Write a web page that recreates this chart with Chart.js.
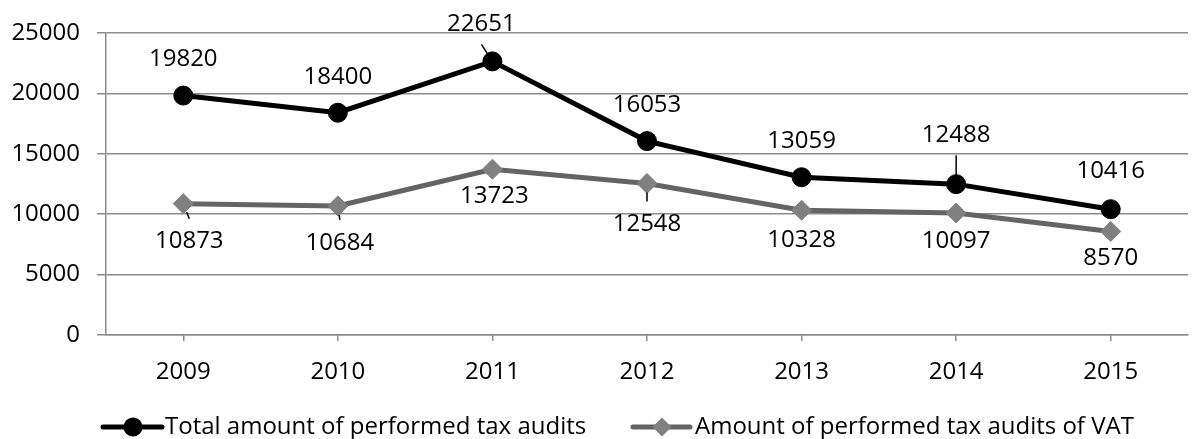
<!DOCTYPE html>
<html><head><meta charset="utf-8">
<script src="https://cdn.jsdelivr.net/npm/chart.js@4.4.0/dist/chart.umd.min.js"></script>
<style>
html,body{margin:0;padding:0;background:#fff;overflow:hidden;width:1197px;height:439px;}
#wrap{position:absolute;left:0;top:0;width:1199px;height:439px;}
</style></head><body>
<div id="wrap"><canvas id="c"></canvas></div>
<script>
const years = ['2009','2010','2011','2012','2013','2014','2015'];
const totalAudits = [19820,18400,22651,16053,13059,12488,10416];
const vatAudits = [10873,10684,13723,12548,10328,10097,8570];
const yTicks = [0,5000,10000,15000,20000,25000];
const seriesNames = ['Total amount of performed tax audits','Amount of performed tax audits of VAT'];

const FONT_FAMILY = '"Open Sans", "Noto Sans", sans-serif';
const FONT_SIZE = 24;
const FONT = FONT_SIZE + 'px ' + FONT_FAMILY;
const GRID = '#8c8c8c';
const C1 = '#000000';
const C2LINE = '#646464';
const C2PT = '#808080';

// label placement offsets (dx, dy) from point centre, and leader flags
const labelOffsets = [
  [[0,-36],[0,-36],[-11,-37],[0,-36],[0,-36],[0,-49],[0,-38]],
  [[6,38],[2,37],[2,27],[0,41],[0,29.5],[0,28],[0,26.5]]
];
const leaders = [
  [false,false,true,false,false,true,false],
  [true,true,false,true,false,false,false]
];

const labelPlugin = {
  id:'dataLabels',
  afterDatasetsDraw(chart){
    const ctx = chart.ctx;
    ctx.save();
    ctx.font = FONT;
    ctx.textAlign = 'center';
    ctx.textBaseline = 'middle';
    chart.data.datasets.forEach((ds,di)=>{
      const meta = chart.getDatasetMeta(di);
      meta.data.forEach((pt,i)=>{
        const [dx,dy] = labelOffsets[di][i];
        const lx = pt.x+dx, ly = pt.y+dy;
        if(leaders[di][i]){
          const sx = lx, sy = ly + (dy<0 ? 20 : -23);
          const vx = pt.x - sx, vy = pt.y - sy;
          const len = Math.hypot(vx,vy);
          const ex = pt.x - vx/len*9, ey = pt.y - vy/len*9;
          ctx.strokeStyle = '#000'; ctx.lineWidth = 1.5;
          ctx.beginPath(); ctx.moveTo(sx,sy); ctx.lineTo(ex,ey); ctx.stroke();
        }
        ctx.fillStyle = '#000';
        ctx.fillText(String(ds.data[i]), lx, ly);
      });
    });
    ctx.restore();
  }
};

const legendPlugin = {
  id:'customLegend',
  afterDraw(chart){
    const ctx = chart.ctx;
    ctx.save();
    ctx.font = FONT;
    ctx.textBaseline = 'middle';
    ctx.textAlign = 'left';
    const y = 427;
    // item 1
    let x0 = 103;
    ctx.strokeStyle = C1; ctx.lineWidth = 5; ctx.lineCap='round';
    ctx.beginPath(); ctx.moveTo(x0,y); ctx.lineTo(x0+59,y); ctx.stroke();
    ctx.fillStyle = C1;
    ctx.beginPath(); ctx.arc(x0+30,y,9.5,0,Math.PI*2); ctx.fill();
    ctx.fillStyle = '#000';
    const t1 = chart.data.datasets[0].label;
    ctx.fillText(t1, x0+62, y);
    // item 2
    let x1 = 633;
    ctx.strokeStyle = C2LINE;
    ctx.beginPath(); ctx.moveTo(x1,y); ctx.lineTo(x1+57,y); ctx.stroke();
    ctx.fillStyle = C2PT;
    const cx = x1+29, r = 9.5;
    ctx.beginPath(); ctx.moveTo(cx,y-r); ctx.lineTo(cx+r,y); ctx.lineTo(cx,y+r); ctx.lineTo(cx-r,y); ctx.closePath(); ctx.fill();
    ctx.fillStyle = '#000';
    ctx.fillText(chart.data.datasets[1].label, x1+62, y);
    ctx.restore();
  }
};

new Chart(document.getElementById('c'), {
  type:'line',
  data:{
    labels: years,
    datasets:[
      {label: seriesNames[0], data: totalAudits, borderColor:C1, backgroundColor:C1,
       borderWidth:5, pointStyle:'circle', pointRadius:9.5, pointBackgroundColor:C1,
       pointBorderColor:C1, pointBorderWidth:1, tension:0},
      {label: seriesNames[1], data: vatAudits, borderColor:C2LINE, backgroundColor:C2PT,
       borderWidth:5, pointStyle:'rectRot', pointRadius:10, pointBackgroundColor:C2PT,
       pointBorderColor:C2PT, pointBorderWidth:1, tension:0}
    ]
  },
  options:{
    responsive:true, maintainAspectRatio:false, animation:false, devicePixelRatio:1,
    layout:{padding:{top:33,left:0,right:0,bottom:0}},
    plugins:{legend:{display:false}, tooltip:{enabled:false}},
    scales:{
      x:{
        offset:true,
        grid:{drawOnChartArea:false, drawTicks:true, tickLength:6, color:GRID, lineWidth:1.5},
        border:{display:true, color:GRID, width:1.5},
        ticks:{font:{family:FONT_FAMILY,size:FONT_SIZE}, color:'#000', padding:17, maxRotation:0},
        afterFit(s){ s.height = 104; }
      },
      y:{
        min:0, max:25000,
        afterBuildTicks(s){ s.ticks = yTicks.map(v=>({value:v})); },
        grid:{color:GRID, lineWidth:1.5, tickLength:9},
        border:{display:true, color:GRID, width:1.5},
        ticks:{font:{family:FONT_FAMILY,size:FONT_SIZE}, color:'#000', padding:17, callback:v=>String(v)},
        afterFit(s){ s.width = 106; }
      }
    }
  },
  plugins:[labelPlugin, legendPlugin]
});
</script>
</body></html>
